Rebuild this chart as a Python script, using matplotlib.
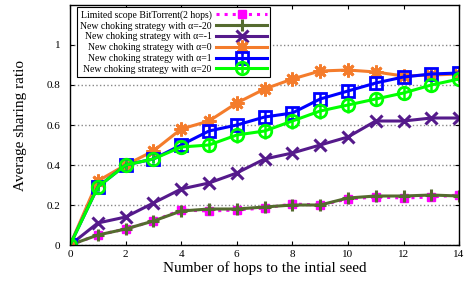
import matplotlib

matplotlib.use("Agg")
import matplotlib.pyplot as plt

hops = list(range(15))

limited = [0.0, 0.05, 0.08, 0.12, 0.175, 0.17, 0.175, 0.185, 0.205, 0.20, 0.23, 0.24, 0.235, 0.24, 0.25]
alpha_m20 = [0.0, 0.05, 0.08, 0.12, 0.17, 0.18, 0.18, 0.19, 0.20, 0.20, 0.235, 0.245, 0.245, 0.25, 0.245]
alpha_m1 = [0.0, 0.11, 0.14, 0.21, 0.28, 0.31, 0.36, 0.43, 0.46, 0.50, 0.54, 0.62, 0.62, 0.635, 0.635]
alpha_0 = [0.0, 0.32, 0.40, 0.47, 0.58, 0.62, 0.71, 0.78, 0.83, 0.87, 0.875, 0.865, 0.845, 0.85, 0.855]
alpha_1 = [0.0, 0.29, 0.40, 0.43, 0.50, 0.57, 0.60, 0.64, 0.66, 0.73, 0.77, 0.81, 0.84, 0.855, 0.86]
alpha_20 = [0.0, 0.29, 0.40, 0.43, 0.49, 0.50, 0.55, 0.57, 0.62, 0.67, 0.70, 0.73, 0.76, 0.80, 0.83]

err_1 = [0.0, 0.02, 0.02, 0.02, 0.03, 0.03, 0.03, 0.03, 0.03, 0.03, 0.03, 0.03, 0.02, 0.02, 0.02]
err_20 = [0.0, 0.02, 0.02, 0.02, 0.03, 0.03, 0.04, 0.04, 0.04, 0.04, 0.04, 0.03, 0.03, 0.03, 0.02]

labels = [
    "Limited scope BitTorrent(2 hops)",
    "New choking strategy with \u03b1=-20",
    "New choking strategy with \u03b1=-1",
    "New choking strategy with \u03b1=0",
    "New choking strategy with \u03b1=1",
    "New choking strategy with \u03b1=20",
]

yticks = [0, 0.2, 0.4, 0.6, 0.8, 1.0]
ytick_labels = ["0", "0.2", "0.4", "0.6", "0.8", "1"]
xticks = [0, 2, 4, 6, 8, 10, 12, 14]

plt.rcParams["font.family"] = ["Liberation Serif", "DejaVu Serif"]

fig = plt.figure(figsize=(4.68, 2.87), dpi=100)
ax = fig.add_axes([0.1496, 0.1463, 0.8314, 0.8363])

lw = 2.2
ax.plot(hops, limited, color="#ff00ff", ls=":", lw=lw, marker="s", ms=6,
        label=labels[0])
ax.plot(hops, alpha_m20, color="#556b2f", lw=lw, marker="+", ms=9, mew=2.2,
        label=labels[1])
ax.plot(hops, alpha_m1, color="#551a8b", lw=lw, marker="x", ms=8, mew=2.2,
        label=labels[2])
ax.plot(hops, alpha_0, color="#f47c2c", lw=lw, marker=(8, 2, 0), ms=10, mew=2.0,
        label=labels[3])
ax.errorbar(hops, alpha_1, yerr=err_1, color="#0000ff", lw=lw, marker="s", ms=8.5,
            mew=2.0, mfc="none", elinewidth=1.8, capsize=0, label=labels[4])
ax.errorbar(hops, alpha_20, yerr=err_20, color="#00ff00", lw=lw, marker="o", ms=9,
            mew=2.0, mfc="none", elinewidth=1.8, capsize=0, label=labels[5])

ax.set_xlim(0, 14)
ax.set_ylim(0, 1.2)
ax.set_xticks(xticks)
ax.set_yticks(yticks)
ax.set_yticklabels(ytick_labels)
ax.tick_params(direction="in", top=True, right=True, labelsize=8, length=3)
ax.tick_params(axis="y", pad=7)
ax.grid(axis="y", ls=":", color="#888888", lw=1.0)
for s in ax.spines.values():
    s.set_linewidth(1.0)

ax.set_xlabel("Number of hops to the intial seed", fontsize=11, labelpad=2)
ax.set_ylabel("Average sharing ratio", fontsize=11, labelpad=14)

leg = ax.legend(loc="upper left", bbox_to_anchor=(0.018, 0.99), borderaxespad=0,
                fontsize=7, markerfirst=False, handlelength=5.2, labelspacing=0.18,
                fancybox=False, framealpha=1, edgecolor="black", borderpad=0.3,
                handletextpad=0.5)
leg.get_frame().set_linewidth(0.8)

fig.savefig("out.png", dpi=100)
